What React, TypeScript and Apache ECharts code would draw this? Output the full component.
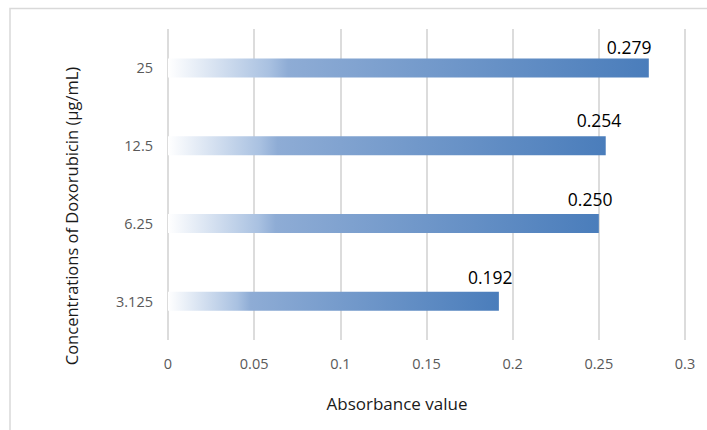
import React, { useEffect, useRef } from "react";
import * as echarts from "echarts";

// Doxorubicin concentrations (µg/mL), bottom to top
const concentrations = ["3.125", "6.25", "12.5", "25"];
// Measured absorbance for each concentration
const absorbance = [0.192, 0.25, 0.254, 0.279];
// Value axis ticks
const xMin = 0;
const xMax = 0.3;
const xStep = 0.05;

// Per-bar nudges for the value labels (the top one sits further left)
const labelOffsets: [number, number][] = [
  [-31, -24],
  [-31, -24],
  [-29, -26],
  [-42, -21],
];

const FONT = "'Open Sans', 'Noto Sans', sans-serif";

export default function App() {
  const ref = useRef<HTMLDivElement>(null);

  useEffect(() => {
    if (!ref.current) return;
    const chart = echarts.init(ref.current, null, { renderer: "svg" });

    const barFill = new echarts.graphic.LinearGradient(0, 0, 1, 0, [
      { offset: 0, color: "#ffffff" },
      { offset: 0.21, color: "#a9c1e1" },
      { offset: 0.25, color: "#8eacd5" },
      { offset: 1, color: "#4a7dbb" },
    ]);

    chart.setOption({
      animation: false,
      backgroundColor: "#ffffff",
      graphic: [
        {
          type: "rect",
          shape: { x: 10, y: 8.5, width: 720, height: 440 },
          style: { fill: "none", stroke: "#d9d9d9", lineWidth: 1.5 },
          silent: true,
          z: -1,
        },
        {
          type: "text",
          x: 71,
          y: 216,
          rotation: Math.PI / 2,
          style: {
            text: "Concentrations of Doxorubicin (µg/mL)",
            font: `16.5px ${FONT}`,
            fill: "#1a1a1a",
            align: "center",
            verticalAlign: "middle",
          },
        },
        {
          type: "text",
          x: 397,
          y: 403,
          style: {
            text: "Absorbance value",
            font: `17px ${FONT}`,
            fill: "#1a1a1a",
            align: "center",
            verticalAlign: "middle",
          },
        },
      ],
      grid: { left: 168, right: 22, top: 29, bottom: 90, containLabel: false },
      xAxis: {
        type: "value",
        min: xMin,
        max: xMax,
        interval: xStep,
        axisLine: { show: false },
        axisTick: { show: false },
        axisLabel: {
          color: "#595959",
          fontFamily: FONT,
          fontSize: 14.5,
          margin: 16,
        },
        splitLine: { show: true, lineStyle: { color: "#d4d4d4", width: 1.6 } },
      },
      yAxis: {
        type: "category",
        data: concentrations,
        axisLine: { show: false },
        axisTick: { show: false },
        axisLabel: {
          color: "#595959",
          fontFamily: FONT,
          fontSize: 14.5,
          margin: 15,
        },
        splitLine: { show: false },
      },
      series: [
        {
          type: "bar",
          data: absorbance.map((v, i) => ({
            value: v,
            label: { offset: labelOffsets[i] },
          })),
          barWidth: 19,
          itemStyle: { color: barFill },
          label: {
            show: true,
            position: "right",
            distance: 0,
            align: "left",
            verticalAlign: "middle",
            formatter: (p: any) => Number(p.value).toFixed(3),
            color: "#000000",
            fontFamily: FONT,
            fontSize: 17.5,
          },
        },
      ],
    });

    return () => chart.dispose();
  }, []);

  return (
    <div
      ref={ref}
      style={{ position: "fixed", left: 0, top: 0, width: 707, height: 430 }}
    />
  );
}
